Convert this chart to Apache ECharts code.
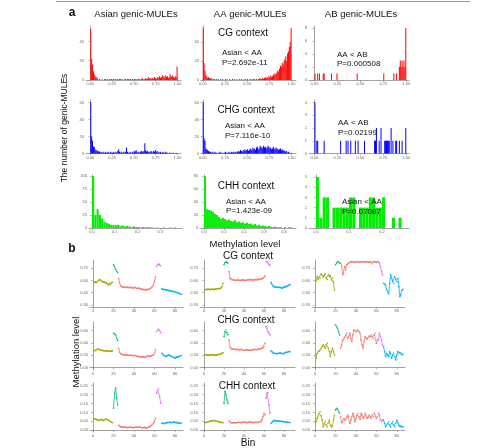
<!DOCTYPE html>
<html><head><meta charset="utf-8">
<script src="https://cdn.jsdelivr.net/npm/echarts@6/dist/echarts.min.js"></script>
<style>html,body{margin:0;padding:0;background:#fff}#c{width:481px;height:448px}</style>
</head><body><div id="c"></div>
<script>
// ---------- panel a: histograms (counts per 0.01 methylation bin) ----------
const binWidth = 0.01;
const cgAsian = [53,22,16,9,6,4,2,3,1,0,1,0,0,1,0,0,1,1,0,1,0,1,0,1,1,0,1,0,1,1,0,1,0,1,1,0,1,0,0,1,1,0,1,1,0,1,1,0,1,0,1,1,0,1,0,1,1,0,1,2,1,0,1,2,1,1,3,2,1,2,1,2,1,3,2,1,2,3,2,4,2,3,5,3,4,2,5,3,4,2,3,6,4,3,5,3,2,4,3,14];
const cgAA = [55,18,10,5,4,2,3,2,1,2,1,0,1,1,0,1,0,1,0,0,1,0,1,0,0,1,0,1,0,0,1,0,0,1,0,1,0,0,1,0,0,1,0,1,0,0,1,0,1,0,1,0,0,1,0,1,0,1,1,0,1,0,1,1,2,1,1,2,1,2,3,2,3,2,4,3,5,3,4,6,5,7,6,8,10,9,12,15,14,18,16,20,22,25,20,28,30,35,40,55];
const cgAB = [1,0,0,1,0,1,0,0,0,1,1,0,0,0,0,0,0,0,1,0,0,0,0,0,1,0,0,0,0,0,0,0,0,0,0,0,0,0,0,0,0,0,0,0,0,0,1,0,0,0,0,0,0,0,0,0,0,0,0,0,0,0,0,0,0,0,0,0,0,0,0,0,0,0,0,1,0,0,0,0,0,0,0,0,0,0,1,0,0,1,0,0,2,3,2,3,2,3,2,8];
const chgAsian = [60,20,15,8,8,5,3,4,2,3,2,1,2,1,2,1,1,2,1,1,2,1,1,2,1,1,2,1,1,2,1,3,5,2,1,2,1,1,2,1,2,7,2,1,1,2,1,1,2,1,3,2,4,2,1,2,1,2,3,2,2,3,12,4,2,3,2,1,2,3,2,1,3,2,4,2,3,1,2,1,2,1,1,2,1,1,2,1,1,0,1,1,0,1,0,1,0,0,1,0];
const chgAA = [60,18,15,6,5,4,3,2,2,1,2,1,1,2,1,1,0,1,1,2,1,1,0,1,1,2,1,1,1,2,1,1,2,1,2,1,2,1,2,2,3,2,4,3,2,4,3,5,3,4,5,3,4,6,5,4,7,5,6,4,7,8,5,6,9,7,8,6,9,7,8,6,7,9,8,6,7,5,6,8,5,6,7,5,6,4,5,6,4,5,3,4,3,2,3,1,2,1,0,1];
const chgAB = [4,0,1,1,0,0,0,0,0,0,1,0,0,0,0,0,0,0,0,0,0,0,0,0,0,0,0,0,1,0,0,0,0,0,1,0,1,0,0,1,0,0,0,0,1,0,0,1,0,0,0,0,0,0,1,0,0,0,0,0,0,0,0,0,0,1,1,2,0,0,1,0,2,0,0,0,1,1,1,1,1,1,0,2,0,1,0,0,1,1,0,0,1,0,0,1,0,0,0,2];
const chhBinWidth = 0.01;
const chhAsian = [100,25,36,25,18,12,10,8,6,6,5,6,4,5,3,4,3,2,3,2,2,1,2,1,2,1,1,0,1,0,0,1,0,0,1,0,1];
const chhAA = [80,29,28,27,25,22,20,17,14,16,14,12,13,11,10,12,9,10,8,9,7,8,6,7,5,6,4,5,3,4,3,2,3,2,1,2,1,1,1,0,1,0,1,1];
const chhAB = [5,1,3,3,0,2,2,2,2,2,3,3,0,2,2,2,3,3,2,2,3,0,0,1,0,1];

// ---------- panel b: methylation level per bin ----------
const segmentNames = ['upstream','start','body','end','downstream'];
const segmentStarts = [1, 20, 25, 62, 67];
const segmentEnds   = [19, 24, 61, 66, 86];
const cgAsianBins = [0.577,0.582,0.573,0.586,0.598,0.614,0.606,0.594,0.586,0.577,0.582,0.565,0.573,0.557,0.545,0.565,0.553,0.573,0.577,
 0.791,0.771,0.738,0.709,0.697,
 0.627,0.565,0.532,0.524,0.516,0.524,0.512,0.516,0.520,0.512,0.516,0.508,0.516,0.512,0.503,0.512,0.516,0.508,0.499,0.503,0.508,0.495,0.491,0.499,0.487,0.483,0.491,0.479,0.487,0.495,0.491,0.503,0.512,0.524,0.545,0.586,0.647,
 0.771,0.791,0.803,0.787,0.779,
 0.499,0.491,0.487,0.491,0.483,0.479,0.483,0.475,0.471,0.475,0.466,0.462,0.466,0.458,0.454,0.450,0.446,0.442,0.434,0.429];
const cgAABins = [0.483,0.491,0.487,0.495,0.491,0.483,0.491,0.495,0.487,0.491,0.495,0.491,0.499,0.495,0.503,0.499,0.508,0.524,0.565,
 0.791,0.820,0.832,0.820,0.812,
 0.709,0.627,0.614,0.606,0.610,0.602,0.606,0.598,0.606,0.610,0.602,0.598,0.606,0.602,0.610,0.606,0.598,0.602,0.606,0.610,0.606,0.614,0.606,0.610,0.602,0.606,0.610,0.614,0.606,0.619,0.610,0.614,0.623,0.614,0.627,0.639,0.656,
 0.832,0.828,0.812,0.795,0.783,
 0.573,0.553,0.532,0.524,0.516,0.520,0.516,0.512,0.516,0.520,0.512,0.503,0.516,0.524,0.516,0.532,0.524,0.536,0.545,0.549];
const cgABBins = [0.586,0.647,0.614,0.639,0.627,0.680,0.656,0.639,0.668,0.680,0.627,0.614,0.668,0.647,0.656,0.606,0.627,0.586,0.483,
 0.791,0.812,0.832,0.820,0.812,
 0.812,0.779,0.668,0.688,0.771,0.729,0.791,0.803,0.812,0.820,0.832,0.820,0.828,0.832,0.820,0.824,0.832,0.828,0.820,0.832,0.824,0.828,0.832,0.820,0.824,0.832,0.828,0.820,0.824,0.832,0.820,0.803,0.832,0.824,0.828,0.820,0.832,
 0.832,0.812,0.771,0.709,0.668,
 0.565,0.557,0.545,0.491,0.462,0.434,0.565,0.668,0.627,0.586,0.565,0.647,0.606,0.586,0.627,0.524,0.401,0.421,0.483,0.491];
const chgAsianBins = [0.270,0.276,0.286,0.297,0.303,0.292,0.286,0.276,0.281,0.270,0.276,0.265,0.270,0.276,0.265,0.259,0.270,0.265,0.270,
 0.557,0.546,0.530,0.476,0.438,
 0.314,0.243,0.222,0.211,0.205,0.211,0.200,0.205,0.211,0.200,0.195,0.200,0.205,0.195,0.189,0.195,0.200,0.189,0.184,0.178,0.173,0.178,0.168,0.173,0.178,0.168,0.173,0.178,0.184,0.189,0.178,0.184,0.189,0.195,0.205,0.232,0.297,
 0.584,0.611,0.622,0.600,0.568,
 0.232,0.216,0.200,0.189,0.178,0.189,0.200,0.205,0.195,0.184,0.178,0.168,0.162,0.151,0.168,0.178,0.168,0.178,0.189,0.195];
const chgAABins = [0.205,0.211,0.200,0.205,0.195,0.200,0.205,0.211,0.200,0.205,0.195,0.200,0.205,0.211,0.216,0.211,0.222,0.232,0.243,
 0.503,0.584,0.611,0.568,0.530,
 0.449,0.330,0.308,0.297,0.303,0.292,0.297,0.286,0.292,0.297,0.286,0.281,0.292,0.297,0.286,0.276,0.281,0.286,0.292,0.281,0.286,0.276,0.281,0.286,0.292,0.286,0.297,0.292,0.286,0.297,0.303,0.297,0.308,0.314,0.319,0.341,0.395,
 0.665,0.638,0.584,0.557,0.530,
 0.270,0.254,0.243,0.232,0.227,0.232,0.222,0.227,0.232,0.238,0.232,0.227,0.222,0.232,0.243,0.249,0.243,0.254,0.259,0.259];
const chgABBins = [0.151,0.232,0.259,0.270,0.286,0.314,0.341,0.368,0.341,0.314,0.368,0.395,0.314,0.259,0.178,0.259,0.314,0.259,0.205,
 0.692,0.665,0.638,0.584,0.530,
 0.314,0.368,0.438,0.459,0.492,0.530,0.557,0.476,0.514,0.557,0.476,0.422,0.530,0.611,0.600,0.584,0.595,0.611,0.584,0.557,0.449,0.368,0.314,0.422,0.503,0.476,0.459,0.492,0.514,0.503,0.530,0.503,0.476,0.530,0.557,0.395,0.449,
 0.449,0.557,0.503,0.449,0.368,
 0.341,0.259,0.178,0.232,0.205,0.178,0.259,0.232,0.151,0.205,0.232,0.178,0.124,0.205,0.259,0.232,0.243,0.232,0.205,0.216];
const chhAsianBins = [0.066,0.063,0.061,0.057,0.059,0.055,0.057,0.061,0.059,0.053,0.057,0.061,0.063,0.059,0.055,0.053,0.049,0.045,0.042,
 0.123,0.208,0.237,0.180,0.142,
 0.028,0.023,0.019,0.017,0.019,0.015,0.017,0.019,0.015,0.013,0.017,0.019,0.015,0.017,0.013,0.015,0.017,0.019,0.015,0.017,0.019,0.017,0.015,0.013,0.015,0.017,0.013,0.011,0.015,0.017,0.019,0.023,0.027,0.032,0.038,0.047,0.066,
 0.208,0.223,0.231,0.189,0.152,
 0.038,0.040,0.036,0.038,0.042,0.040,0.044,0.042,0.045,0.044,0.042,0.045,0.047,0.044,0.042,0.044,0.040,0.042,0.038,0.040];
const chhAABins = [0.042,0.044,0.045,0.047,0.049,0.051,0.053,0.051,0.053,0.055,0.053,0.051,0.049,0.051,0.047,0.045,0.044,0.042,0.042,
 0.152,0.218,0.199,0.170,0.152,
 0.053,0.045,0.042,0.040,0.042,0.044,0.042,0.040,0.042,0.044,0.045,0.044,0.042,0.044,0.045,0.047,0.045,0.044,0.042,0.044,0.045,0.047,0.045,0.044,0.042,0.044,0.045,0.044,0.042,0.044,0.045,0.047,0.049,0.057,0.076,0.095,0.085,
 0.180,0.208,0.212,0.142,0.095,
 0.038,0.045,0.051,0.053,0.055,0.053,0.051,0.053,0.051,0.049,0.051,0.049,0.047,0.049,0.047,0.045,0.044,0.045,0.044,0.042];
const chhABBins = [0.047,0.066,0.080,0.095,0.104,0.080,0.057,0.019,0.038,0.047,0.028,0.019,0.042,0.057,0.028,0.019,0.023,0.057,0.085,
 0.114,0.123,0.117,0.104,0.095,
 0.076,0.042,0.047,0.066,0.057,0.061,0.072,0.085,0.076,0.038,0.057,0.076,0.095,0.076,0.047,0.066,0.085,0.095,0.076,0.061,0.095,0.085,0.066,0.076,0.095,0.080,0.066,0.072,0.085,0.076,0.066,0.085,0.076,0.095,0.080,0.066,0.076,
 0.095,0.085,0.057,0.047,0.057,
 0.057,0.038,0.019,0.028,0.038,0.047,0.028,0.019,0.038,0.047,0.028,0.019,0.038,0.057,0.042,0.028,0.019,0.023,0.019,0.019];

const segColors = ['#A3A500','#00BF7D','#F8766D','#E76BF3','#00B0F6'];
const histTicks01 = [0, 0.25, 0.5, 0.75, 1];

// ---------- layout ----------
const colA = [{left:86,width:95,min:-0.05,max:1.04},{left:201,width:95,min:-0.02,max:1.05},{left:309,width:100,min:-0.06,max:1.03}];
const colA3 = [{left:89,width:93,min:-0.013,max:0.396,ticks:[0,0.1,0.2,0.3]},{left:200,width:96,min:-0.02,max:0.46,ticks:[0,0.1,0.2,0.3,0.4]},{left:309,width:100,min:-0.021,max:0.282,ticks:[0,0.1,0.2]}];
const rowA = [{top:26,height:54},{top:100,height:53.5},{top:175,height:53}];
const colB = [{left:90,width:93,min:-3,max:87.8},{left:200,width:95,min:-4,max:91},{left:312,width:93,min:-3,max:88}];
const rowB = [{top:260,height:47,min:0.275,max:0.85,ticks:[0.30,0.45,0.60,0.75]},{top:322,height:48,min:-0.04,max:0.74,ticks:[0,0.2,0.4,0.6]},{top:383,height:49,min:-0.01,max:0.265,ticks:[0,0.05,0.1,0.15,0.2,0.25]}];

const hist = [
  [cgAsian, cgAA, cgAB],
  [chgAsian, chgAA, chgAB],
  [chhAsian, chhAA, chhAB]
];
const histColor = ['#FF0000','#0000FF','#00EE00'];
const histY = [
  [{max:56,ticks:[0,20,40]},{max:57,ticks:[0,20,40]},{max:8.3,ticks:[0,2,4,6,8]}],
  [{max:63,ticks:[0,20,40,60]},{max:63,ticks:[0,20,40,60]},{max:4.2,ticks:[0,1,2,3,4]}],
  [{max:102,ticks:[0,25,50,75,100]},{max:82,ticks:[0,20,40,60,80]},{max:5.2,ticks:[0,1,2,3,4,5]}]
];
const lines = [
  [cgAsianBins, cgAABins, cgABBins],
  [chgAsianBins, chgAABins, chgABBins],
  [chhAsianBins, chhAABins, chhABBins]
];

const grids=[], xAxes=[], yAxes=[], series=[];
const axisCommon = {
  axisLine:{show:true,lineStyle:{color:'#8a8a8a',width:0.8}},
  axisTick:{show:true,length:2,lineStyle:{color:'#8a8a8a',width:0.6}},
  axisLabel:{fontSize:4,color:'#666',margin:2,fontFamily:'Liberation Sans'},
  splitLine:{show:false}
};
function addGrid(g){ grids.push(g); return grids.length-1; }

for (let r=0;r<3;r++){
  for (let c=0;c<3;c++){
    const cx = r<2 ? colA[c] : colA3[c];
    const gi = addGrid({left:cx.left, top:rowA[r].top, width:cx.width, height:rowA[r].height});
    const ticksX = r<2 ? histTicks01 : cx.ticks;
    xAxes.push(Object.assign({}, axisCommon, {type:'value', gridIndex:gi, min:cx.min, max:cx.max,
      axisTick:Object.assign({}, axisCommon.axisTick, {customValues:ticksX}),
      axisLabel:Object.assign({}, axisCommon.axisLabel, {customValues:ticksX, formatter:v=> r<2 ? v.toFixed(2) : v.toFixed(1)})}));
    const hy = histY[r][c];
    yAxes.push(Object.assign({}, axisCommon, {type:'value', gridIndex:gi, min:0, max:hy.max,
      axisTick:Object.assign({}, axisCommon.axisTick, {customValues:hy.ticks}),
      axisLabel:Object.assign({}, axisCommon.axisLabel, {customValues:hy.ticks})}));
    const w = r<2 ? binWidth : chhBinWidth;
    const data = hist[r][c].map((v,i)=>[i*w + w/2, v]);
    const pxPerBin = cx.width * w / (cx.max - cx.min);
    series.push({type:'bar', xAxisIndex:gi, yAxisIndex:gi, data:data, barWidth:Math.max(0.8, pxPerBin*0.95),
      itemStyle:{color:histColor[r]}, silent:true, animation:false, z:2});
  }
}
for (let r=0;r<3;r++){
  for (let c=0;c<3;c++){
    const cx = colB[c], ry = rowB[r];
    const gi = addGrid({left:cx.left, top:ry.top, width:cx.width, height:ry.height});
    const xt=[0,20,40,60,80];
    xAxes.push(Object.assign({}, axisCommon, {type:'value', gridIndex:gi, min:cx.min, max:cx.max,
      axisTick:Object.assign({}, axisCommon.axisTick, {customValues:xt}),
      axisLabel:Object.assign({}, axisCommon.axisLabel, {customValues:xt})}));
    yAxes.push(Object.assign({}, axisCommon, {type:'value', gridIndex:gi, min:ry.min, max:ry.max,
      axisTick:Object.assign({}, axisCommon.axisTick, {customValues:ry.ticks}),
      axisLabel:Object.assign({}, axisCommon.axisLabel, {customValues:ry.ticks, formatter:v=> v.toFixed(2)})}));
    const vals = lines[r][c];
    for (let s=0;s<5;s++){
      const d=[];
      for (let b=segmentStarts[s]; b<=segmentEnds[s]; b++) d.push([b, vals[b-1]]);
      series.push({type:'line', name:segmentNames[s], xAxisIndex:gi, yAxisIndex:gi, data:d,
        symbol:'circle', symbolSize:1.6, showSymbol:true,
        lineStyle:{width:0.8,color:segColors[s]}, itemStyle:{color:segColors[s]}, silent:true, animation:false});
    }
  }
}

const F = 'Liberation Sans, Arial, sans-serif';
function txt(x,y,t,size,opts){ return {type:'text', z:100, x:x, y:y, style:Object.assign({text:t, fontSize:size, fontFamily:F, fill:'#111', textAlign:'center', textVerticalAlign:'middle'}, opts||{})}; }
const graphic = [
  {type:'line', shape:{x1:56,y1:1.5,x2:470,y2:1.5}, style:{stroke:'#999',lineWidth:1}},
  txt(72,13,'a',12,{fontWeight:'bold'}),
  txt(136,14,'Asian genic-MULEs',9.5),
  txt(250,14,'AA genic-MULEs',9.5),
  txt(361,14,'AB genic-MULEs',9.5),
  txt(243,33,'CG context',10),
  txt(222,53,'Asian < AA',8,{textAlign:'left'}),
  txt(222,63,'P=2.692e-11',8,{textAlign:'left'}),
  txt(337,55,'AA < AB',8,{textAlign:'left'}),
  txt(337,64,'P=0.000508',8,{textAlign:'left'}),
  txt(246,110,'CHG context',10),
  txt(225,126,'Asian < AA',8,{textAlign:'left'}),
  txt(225,136,'P=7.116e-10',8,{textAlign:'left'}),
  txt(338,123,'AA < AB',8,{textAlign:'left'}),
  txt(338,133,'P=0.02199',8,{textAlign:'left'}),
  txt(246,186,'CHH context',10),
  txt(226,202,'Asian < AA',8,{textAlign:'left'}),
  txt(226,211,'P=1.423e-09',8,{textAlign:'left'}),
  txt(342,202,'Asian < AA',8,{textAlign:'left'}),
  txt(342,212,'P=0.07087',8,{textAlign:'left'}),
  txt(245,244,'Methylation level',9.5),
  {type:'text', z:100, x:65, y:128, rotation:Math.PI/2, style:{text:'The number of genic-MULEs', fontSize:8.5, fontFamily:F, fill:'#111', textAlign:'center', textVerticalAlign:'middle'}},
  txt(72,249,'b',12,{fontWeight:'bold'}),
  txt(248,256,'CG context',10),
  txt(246,320,'CHG context',10),
  txt(247,386,'CHH context',10),
  {type:'text', z:100, x:76, y:352, rotation:Math.PI/2, style:{text:'Methylation level', fontSize:9.5, fontFamily:F, fill:'#111', textAlign:'center', textVerticalAlign:'middle'}},
  txt(248,443,'Bin',10)
];

const chart = echarts.init(document.getElementById('c'), null, {renderer:'canvas'});
chart.setOption({animation:false, backgroundColor:'#fff', grid:grids, xAxis:xAxes, yAxis:yAxes, series:series, graphic:graphic});
</script></body></html>
